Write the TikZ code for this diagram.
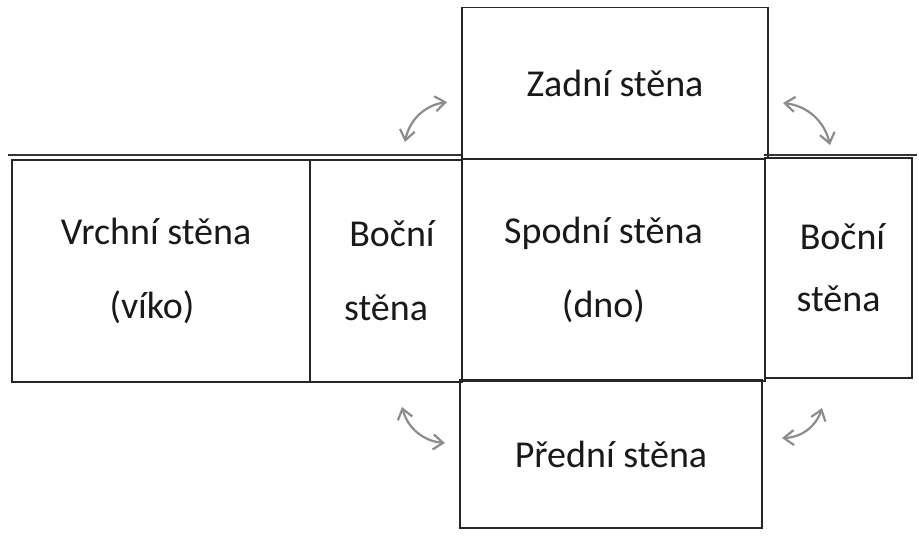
\documentclass[tikz,border=0pt]{standalone}
\usepackage{fontspec}
\setmainfont{Carlito}
\usetikzlibrary{arrows.meta}
\tikzset{
  face/.style={draw=black!85, line width=1.6pt, inner sep=0pt, align=center,
    font=\fontsize{38}{74}\selectfont, text=black!90},
  flip/.style={draw=black!45, line width=2.2pt, {Straight Barb[length=10pt,width=15pt]}-{Straight Barb[length=10pt,width=15pt]}},
  edge/.style={draw=black!80, line width=1.4pt}
}
\begin{document}
\begin{tikzpicture}[x=1pt,y=-1pt]
\useasboundingbox (0,0) rectangle (919,537);
% faces
\node[face, minimum width=306pt, minimum height=151pt] (zad) at (615,83) {Zadní stěna};
\node[face, minimum width=298pt, minimum height=222pt] (vrch) at (161,271) {\hspace*{-10pt}Vrchní stěna\\\hspace*{-18pt}(víko)};
\node[face, minimum width=152pt, minimum height=222pt] (bocl) at (386,271) {\hspace*{12pt}Boční\\stěna};
\node[face, minimum width=303pt, minimum height=222pt] (spod) at (613.5,270) {\hspace*{-20pt}Spodní stěna\\\hspace*{-20pt}(dno)};
\node[face, minimum width=147pt, minimum height=220pt, font=\fontsize{38}{62}\selectfont] (bocp) at (838.5,268) {\hspace*{8pt}Boční\\stěna};
\node[face, minimum width=302pt, minimum height=148pt] (pred) at (611,454) {Přední stěna};
% extra fold lines above the middle row
\draw[edge] (8,155) -- (vrch.north east |- 0,155) -- (spod.north west |- 0,155);
\draw[edge] (bocp.north west) ++(0,-2) -- ++(153,0);
% fold arrows
\coordinate (a1s) at (405,142); \coordinate (a1e) at (447,102);
\coordinate (a2s) at (783,103); \coordinate (a2e) at (830,145);
\coordinate (a3s) at (402,407); \coordinate (a3e) at (445,443);
\coordinate (a4s) at (782,438); \coordinate (a4e) at (822,408);
\draw[flip] (a1s) to[bend left=35] (a1e);
\draw[flip] (a2s) to[bend left=35] (a2e);
\draw[flip] (a3s) to[bend right=35] (a3e);
\draw[flip] (a4s) to[bend right=35] (a4e);
\end{tikzpicture}
\end{document}
